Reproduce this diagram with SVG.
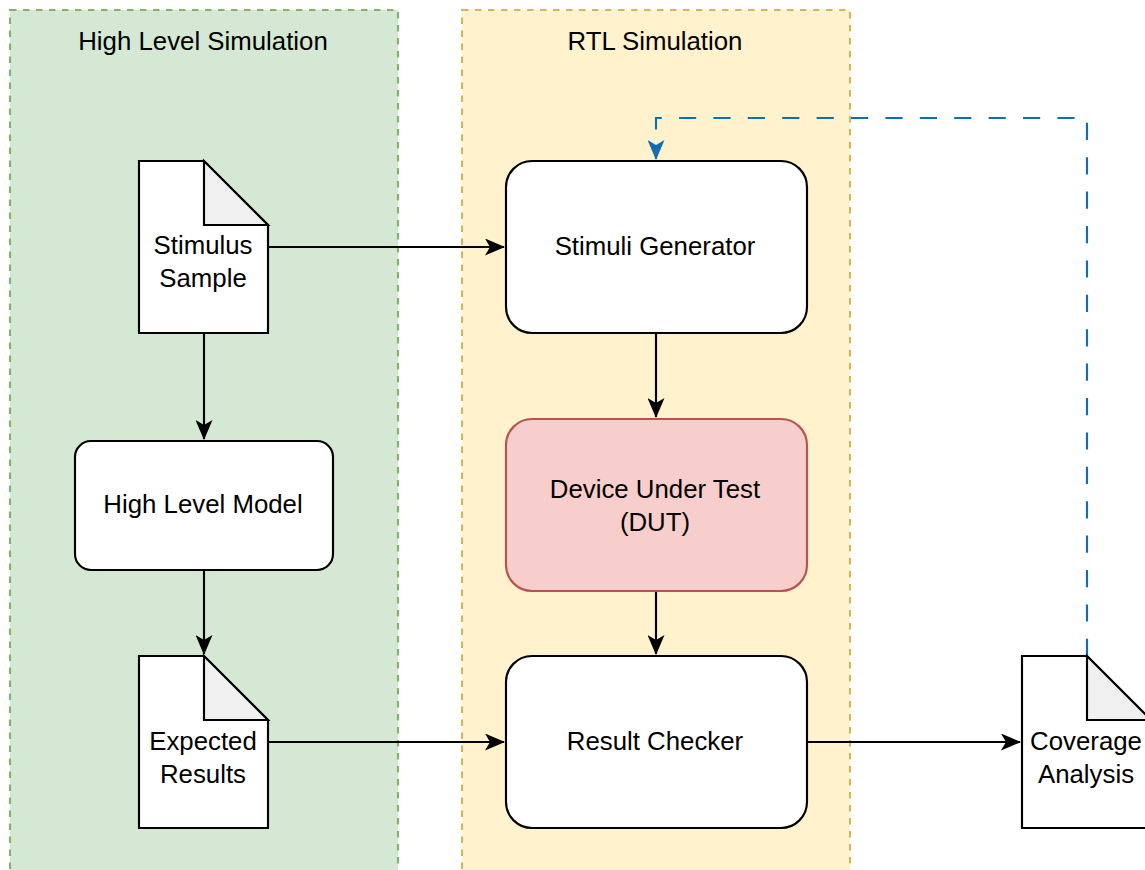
<svg xmlns="http://www.w3.org/2000/svg" width="1145" height="870" viewBox="0 0 1145 870">
  <style>
    text { font-family: "Liberation Sans", Arial, sans-serif; font-size: 25.8px; fill: #000; text-anchor: middle; }
    .box { fill: #fff; stroke: #000; stroke-width: 2.15; }
    .fold { fill: #f0f0f0; stroke: #000; stroke-width: 2.15; stroke-linejoin: miter; }
    .edge { fill: none; stroke: #000; stroke-width: 2.15; }
    .loop { fill: none; stroke: #0f6fb0; stroke-width: 2.15; stroke-dasharray: 17.2 17.2; }
  </style>
  <defs>
    <marker id="arrow" viewBox="0 0 20 17" refX="19" refY="8.5" markerWidth="20" markerHeight="17" markerUnits="userSpaceOnUse" orient="auto">
      <path d="M0,0 L20,8.5 L0,17 L5,8.5 Z" fill="#000"/>
    </marker>
    <marker id="arrowBlue" viewBox="0 0 20 17" refX="19" refY="8.5" markerWidth="20" markerHeight="17" markerUnits="userSpaceOnUse" orient="auto">
      <path d="M0,0 L20,8.5 L0,17 L5,8.5 Z" fill="#0f6fb0"/>
    </marker>
  </defs>

  <!-- swimlane containers -->
  <g id="high-level-simulation">
    <rect x="10" y="10" width="388" height="880" fill="#d5e8d4" stroke="#82b366" stroke-width="2.15" stroke-dasharray="6.5 6.5"/>
    <text x="203" y="50">High Level Simulation</text>
  </g>
  <g id="rtl-simulation">
    <rect x="462" y="10" width="388" height="880" fill="#fff2cc" stroke="#d6b656" stroke-width="2.15" stroke-dasharray="6.5 6.5"/>
    <text x="655" y="50">RTL Simulation</text>
  </g>

  <!-- connectors -->
  <g id="connectors">
    <path class="edge" d="M268,247 H504" marker-end="url(#arrow)"/>
    <path class="edge" d="M204,333 V439" marker-end="url(#arrow)"/>
    <path class="edge" d="M204,570 V654" marker-end="url(#arrow)"/>
    <path class="edge" d="M656,333 V417" marker-end="url(#arrow)"/>
    <path class="edge" d="M656,591 V654" marker-end="url(#arrow)"/>
    <path class="edge" d="M268,742 H504" marker-end="url(#arrow)"/>
    <path class="edge" d="M807,742 H1020" marker-end="url(#arrow)"/>
    <path class="loop" d="M1087,656 V118 H656 V159" marker-end="url(#arrowBlue)"/>
  </g>

  <!-- nodes -->
  <g id="stimulus-sample">
    <path class="box" d="M139,161 H204 L268,225 V333 H139 Z"/>
    <path class="fold" d="M204,161 V225 H268 Z"/>
    <text x="203" y="254">Stimulus</text>
    <text x="203" y="287">Sample</text>
  </g>
  <g id="high-level-model">
    <rect class="box" x="75" y="441" width="258" height="129" rx="16"/>
    <text x="203" y="513">High Level Model</text>
  </g>
  <g id="expected-results">
    <path class="box" d="M139,656 H204 L268,720 V828 H139 Z"/>
    <path class="fold" d="M204,656 V720 H268 Z"/>
    <text x="203" y="750">Expected</text>
    <text x="203" y="783">Results</text>
  </g>
  <g id="stimuli-generator">
    <rect class="box" x="506" y="161" width="301" height="172" rx="26"/>
    <text x="655" y="255">Stimuli Generator</text>
  </g>
  <g id="dut">
    <rect x="506" y="419" width="301" height="172" rx="26" fill="#f8cecc" stroke="#b85450" stroke-width="2.15"/>
    <text x="655" y="498">Device Under Test</text>
    <text x="655" y="531">(DUT)</text>
  </g>
  <g id="result-checker">
    <rect class="box" x="506" y="656" width="301" height="172" rx="26"/>
    <text x="655" y="750">Result Checker</text>
  </g>
  <g id="coverage-analysis">
    <path class="box" d="M1022,656 H1087 L1151,720 V828 H1022 Z"/>
    <path class="fold" d="M1087,656 V720 H1151 Z"/>
    <text x="1086" y="750">Coverage</text>
    <text x="1086" y="783">Analysis</text>
  </g>
</svg>
